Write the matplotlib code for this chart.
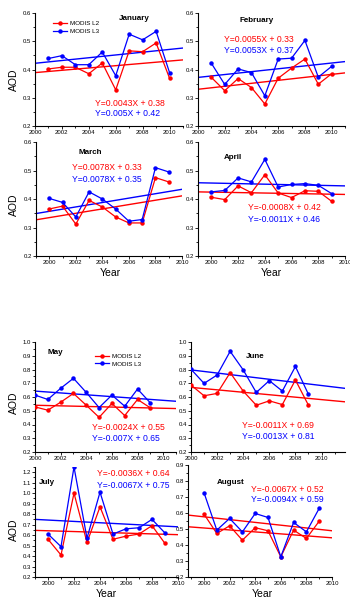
import numpy as np
import matplotlib.pyplot as plt
from matplotlib.ticker import MultipleLocator

plt.rcParams['font.family'] = ['Liberation Sans', 'DejaVu Sans']

W, H = 350, 599

years_a = np.arange(2001, 2011)
years_b = np.arange(2000, 2010)

jan_l2 = [0.402, 0.408, 0.408, 0.385, 0.423, 0.328, 0.466, 0.463, 0.494, 0.369]
jan_l3 = [0.439, 0.449, 0.417, 0.417, 0.462, 0.378, 0.525, 0.505, 0.535, 0.389]
feb_l2 = [0.372, 0.325, 0.368, 0.336, 0.278, 0.369, 0.405, 0.437, 0.348, 0.385]
feb_l3 = [0.422, 0.347, 0.402, 0.389, 0.307, 0.437, 0.440, 0.503, 0.373, 0.411]
mar_l2 = [0.365, 0.375, 0.312, 0.395, 0.372, 0.337, 0.316, 0.316, 0.475, 0.460]
mar_l3 = [0.402, 0.388, 0.337, 0.425, 0.400, 0.365, 0.322, 0.328, 0.510, 0.495]
apr_l2 = [0.406, 0.398, 0.446, 0.422, 0.485, 0.421, 0.405, 0.429, 0.427, 0.392]
apr_l3 = [0.425, 0.430, 0.474, 0.460, 0.539, 0.442, 0.451, 0.454, 0.448, 0.419]
may_l2 = [0.528, 0.504, 0.562, 0.626, 0.540, 0.452, 0.553, 0.465, 0.582, 0.521]
may_l3 = [0.614, 0.582, 0.663, 0.736, 0.633, 0.523, 0.614, 0.533, 0.658, 0.557]
jun_l2 = [0.687, 0.609, 0.626, 0.777, 0.643, 0.540, 0.572, 0.545, 0.724, 0.540]
jun_l3 = [0.802, 0.699, 0.760, 0.932, 0.797, 0.633, 0.719, 0.643, 0.822, 0.619]
jul_l2 = [0.56, 0.41, 1.00, 0.53, 0.87, 0.56, 0.59, 0.61, 0.69, 0.52]
jul_l3 = [0.61, 0.49, 1.25, 0.57, 1.01, 0.61, 0.66, 0.67, 0.75, 0.62]
aug_l2 = [0.593, 0.472, 0.520, 0.430, 0.508, 0.489, 0.326, 0.493, 0.441, 0.549]
aug_l3 = [0.727, 0.493, 0.566, 0.482, 0.597, 0.572, 0.326, 0.541, 0.482, 0.629]

# trend line values at the left / right x limits
jan_tr = ([0.389, 0.434], [0.422, 0.476])
feb_tr = ([0.330, 0.388], [0.372, 0.428])
mar_tr = ([0.327, 0.411], [0.349, 0.434])
apr_tr = ([0.425, 0.416], [0.457, 0.446])
may_tr = ([0.540, 0.516], [0.643, 0.569])
jun_tr = ([0.670, 0.565], [0.797, 0.663])
jul_tr = ([0.645, 0.604], [0.750, 0.679])
aug_tr = ([0.514, 0.445], [0.587, 0.489])

jan_eq = ("Y=0.0043X + 0.38", "Y=0.005X + 0.42")
feb_eq = ("Y=0.0055X + 0.33", "Y=0.0053X + 0.37")
mar_eq = ("Y=0.0078X + 0.33", "Y=0.0078X + 0.35")
apr_eq = ("Y=-0.0008X + 0.42", "Y=-0.0011X + 0.46")
may_eq = ("Y=-0.0024X + 0.55", "Y=-0.007X + 0.65")
jun_eq = ("Y=-0.0011X + 0.69", "Y=-0.0013X + 0.81")
jul_eq = ("Y=-0.0036X + 0.64", "Y=-0.0067X + 0.75")
aug_eq = ("Y=-0.0067X + 0.52", "Y=-0.0094X + 0.59")

RED = '#ff0000'
BLUE = '#0000ff'

fig = plt.figure(figsize=(W / 100, H / 100), dpi=100)


def make_ax(left, right, top, bottom, xlim, ylim, ystep):
    ax = fig.add_axes([left / W, 1 - bottom / H, (right - left) / W, (bottom - top) / H])
    ax.set_xlim(*xlim)
    ax.set_ylim(*ylim)
    ax.spines['top'].set_visible(False)
    ax.spines['right'].set_visible(False)
    for s in ('left', 'bottom'):
        ax.spines[s].set_linewidth(0.8)
    ax.xaxis.set_major_locator(MultipleLocator(2))
    ax.xaxis.set_minor_locator(MultipleLocator(1))
    ax.yaxis.set_major_locator(MultipleLocator(ystep))
    ax.yaxis.set_minor_locator(MultipleLocator(ystep / 2))
    ax.tick_params(which='both', direction='out', labelsize=4.3, pad=1, width=0.6)
    ax.tick_params(which='major', length=2)
    ax.tick_params(which='minor', length=1.2)
    ax.set_facecolor('none')
    return ax


def draw(ax, years, l2, l3, trend, trend_colors=(RED, BLUE)):
    x0, x1 = ax.get_xlim()
    ax.plot([x0, x1], trend[0], '-', color=trend_colors[0], lw=1.0, zorder=2)
    ax.plot([x0, x1], trend[1], '-', color=trend_colors[1], lw=1.0, zorder=2)
    h2, = ax.plot(years, l2, '-o', color=RED, lw=0.9, ms=2.2, zorder=3, label='MODIS L2')
    h3, = ax.plot(years, l3, '-o', color=BLUE, lw=0.9, ms=2.2, zorder=3, label='MODIS L3')
    return h2, h3


def ftext(px, py, s, **kw):
    fig.text(px / W, 1 - py / H, s, va='center', **kw)


def title(px, py, s):
    ftext(px, py, s, ha='center', fontsize=5.8, fontweight='bold')


def eqs(px, py, eq, gap=10.5):
    ftext(px, py, eq[0], ha='left', fontsize=6.2, color=RED)
    ftext(px, py + gap, eq[1], ha='left', fontsize=6.2, color=BLUE)


# January
ax = make_ax(35, 183, 13, 126, (2000, 2011), (0.2, 0.6), 0.1)
h2, h3 = draw(ax, years_a, jan_l2, jan_l3, jan_tr)
ax.legend(handles=[h2, h3], loc='upper left', bbox_to_anchor=(53 / W, 1 - 21 / H),
          bbox_transform=fig.transFigure, frameon=False, fontsize=4.5, borderpad=0,
          borderaxespad=0, handlelength=2.3, handletextpad=0.4, labelspacing=0.35)
title(134, 18, 'January')
eqs(95, 103, jan_eq)

# February
ax = make_ax(198, 345, 13, 126, (2000, 2011), (0.2, 0.6), 0.1)
draw(ax, years_a, feb_l2, feb_l3, feb_tr)
title(257, 20, 'February')
eqs(224, 40, feb_eq)

# March
ax = make_ax(36, 182, 142, 256, (1999, 2010), (0.2, 0.6), 0.1)
draw(ax, years_b, mar_l2, mar_l3, mar_tr)
title(90, 153, 'March')
eqs(72, 168, mar_eq, gap=12)

# April
ax = make_ax(198, 345, 142, 256, (1999, 2010), (0.2, 0.6), 0.1)
draw(ax, years_b, apr_l2, apr_l3, apr_tr)
title(233, 157, 'April')
eqs(248, 208, apr_eq, gap=11)

# May
ax = make_ax(35, 176, 342, 452, (2000, 2011), (0.2, 1.0), 0.1)
h2, h3 = draw(ax, years_b, may_l2, may_l3, may_tr)
ax.legend(handles=[h2, h3], loc='upper left', bbox_to_anchor=(95 / W, 1 - 354 / H),
          bbox_transform=fig.transFigure, frameon=False, fontsize=4.5, borderpad=0,
          borderaxespad=0, handlelength=2.3, handletextpad=0.4, labelspacing=0.3)
title(55, 352, 'May')
eqs(92, 428, may_eq)

# June
ax = make_ax(191, 345, 342, 452, (2000, 2011.8), (0.2, 1.0), 0.1)
draw(ax, years_b, jun_l2, jun_l3, jun_tr)
title(255, 356, 'June')
eqs(242, 426, jun_eq)

# July
ax = make_ax(35, 178, 467, 577, (1999, 2010), (0.2, 1.25), 0.1)
draw(ax, years_b, jul_l2, jul_l3, jul_tr)
title(47, 482, 'July')
eqs(97, 474, jul_eq, gap=12)

# August
ax = make_ax(188, 332, 465, 577, (1998.75, 2010), (0.2, 0.9), 0.1)
draw(ax, years_b, aug_l2, aug_l3, aug_tr, trend_colors=(RED, RED))
title(231, 482, 'August')
eqs(251, 489, aug_eq)

for py in (80, 205, 403, 530):
    ftext(14, py, 'AOD', ha='center', rotation=90, fontsize=7.5)
for px, py in ((110, 273), (271, 273), (106, 594), (262, 594)):
    ftext(px, py, 'Year', ha='center', fontsize=7.5)

fig.savefig('out.png', dpi=100)
